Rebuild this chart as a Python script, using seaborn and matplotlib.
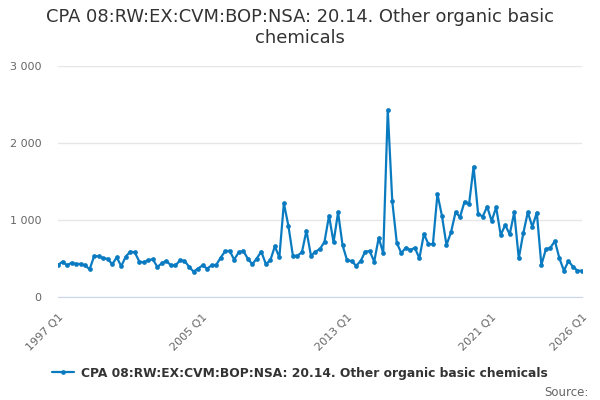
import numpy as np
import pandas as pd
import matplotlib
matplotlib.use("Agg")
import matplotlib.pyplot as plt
import seaborn as sns

# quarterly series, 1997 Q1 .. 2026 Q1
start_quarter = "1997Q1"
values = [
    415, 460, 410, 445, 430, 430, 410, 360,
    530, 530, 505, 495, 425, 515, 400, 525,
    590, 580, 460, 450, 480, 490, 390, 440,
    470, 410, 410, 475, 470, 395, 330, 370,
    410, 370, 410, 415, 510, 595, 600, 485,
    580, 600, 500, 425, 500, 590, 430, 475,
    658, 515, 1217, 926, 536, 536, 582, 861,
    536, 589, 623, 718, 1056, 710, 1100, 671,
    476, 467, 406, 467, 589, 597, 459, 770,
    567, 2430, 1243, 704, 569, 642, 610, 640,
    502, 818, 688, 688, 1338, 1052, 675, 840,
    1098, 1040, 1238, 1206, 1693, 1083, 1043, 1173,
    987, 1164, 805, 935, 814, 1100, 502, 827,
    1100, 913, 1095, 416, 619, 640, 727, 502,
    342, 467, 394, 342, 342,
]
series_name = "CPA 08:RW:EX:CVM:BOP:NSA: 20.14. Other organic basic chemicals"
label_quarters = ["1997Q1", "2005Q1", "2013Q1", "2021Q1", "2026Q1"]
y_ticks = [0, 1000, 2000, 3000]

periods = pd.period_range(start_quarter, periods=len(values), freq="Q")
df = pd.DataFrame({
    "t": [p.year + (p.quarter - 1) / 4 for p in periods],
    "value": values,
    "series": series_name,
})

def qpos(s):
    p = pd.Period(s, freq="Q")
    return p.year + (p.quarter - 1) / 4

sns.set_style("white")
plt.rcParams["font.family"] = ["DejaVu Sans"]

line_color = "#0b7bc1"
fig = plt.figure(figsize=(6, 4), dpi=100)
ax = fig.add_axes([58 / 600, 103 / 400, 524 / 600, 231 / 400])

sns.lineplot(data=df, x="t", y="value", hue="series", palette=[line_color],
             marker="o", markersize=3.4, markeredgewidth=0, linewidth=1.6, ax=ax)

ax.set_xlim(qpos("1997Q1"), qpos("2026Q1"))
ax.set_ylim(0, 3000)
ax.set_yticks(y_ticks)
ax.set_yticklabels([f"{v:,}".replace(",", " ") for v in y_ticks])
ax.yaxis.grid(True, color="#e6e6e6", linewidth=1)
ax.set_axisbelow(True)

minor = [qpos(f"{y}Q1") for y in range(1997, 2026, 2)] + [qpos("2026Q1")]
ax.set_xticks(minor, minor=True)
ax.set_xticks([qpos(q) for q in label_quarters])
ax.set_xticklabels([q.replace("Q", " Q") for q in label_quarters],
                   rotation=45, ha="right", rotation_mode="anchor")
ax.tick_params(axis="x", which="both", length=8, color="#ccd6eb", width=1,
               labelcolor="#666666", labelsize=8, pad=3)
ax.tick_params(axis="y", length=0, labelcolor="#666666", labelsize=8, pad=12)

for side in ["top", "right", "left"]:
    ax.spines[side].set_visible(False)
ax.spines["bottom"].set_color("#ccd6eb")
ax.set_xlabel("")
ax.set_ylabel("")

fig.suptitle("CPA 08:RW:EX:CVM:BOP:NSA: 20.14. Other organic basic\nchemicals",
             x=0.5, y=0.98, fontsize=12.9, color="#333333", linespacing=1.2)

handles, labels = ax.get_legend_handles_labels()
ax.legend(handles, labels, loc="center", bbox_to_anchor=(300 / 600, 27 / 400),
          bbox_transform=fig.transFigure, frameon=False,
          prop={"weight": "bold", "size": 8.8}, labelcolor="#333333",
          handlelength=1.8, handletextpad=0.6)

fig.text(589 / 600, 8 / 400, "Source:", ha="right", va="center",
         fontsize=8.5, color="#666666")

fig.savefig("out.png", dpi=100)
